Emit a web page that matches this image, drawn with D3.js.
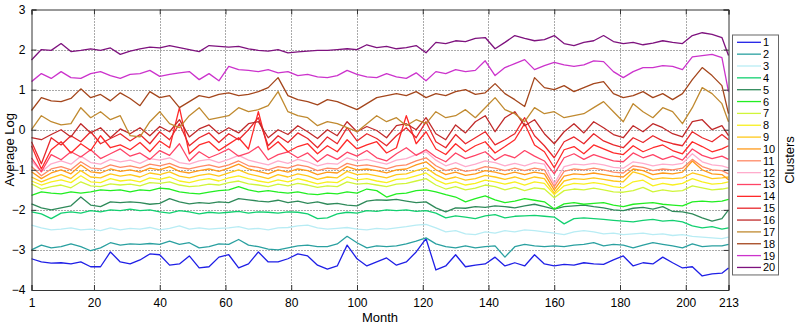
<!DOCTYPE html>
<html>
<head>
<meta charset="utf-8">
<script src="https://cdn.jsdelivr.net/npm/d3@7"></script>
<style>
  body { margin: 0; background: #fff; }
  text { font-family: "Liberation Sans", Arial, sans-serif; fill: #000; }
</style>
</head>
<body>
<svg id="chart" width="798" height="327"></svg>
<script>
// months sampled every 3 months, plus the last one
const months = d3.range(1, 212, 3).concat([213]);

const xTicks = [1, 20, 40, 60, 80, 100, 120, 140, 160, 180, 200, 213];
const yTicks = [-4, -3, -2, -1, 0, 1, 2, 3];

const clusterNames = d3.range(1, 21).map(String);
const clusterColors = ["#1f1fe6", "#2aa0a0", "#b8ecf4", "#12d070", "#2f8a5a",
  "#22ee22", "#d0f53a", "#f8f020", "#ffc81a", "#ff9a1a",
  "#ff8a66", "#ffaccc", "#ff4466", "#ff2a2a", "#e8282c",
  "#c02a2a", "#c08a30", "#a4461c", "#cc33cc", "#7e127e"];

const cluster1 = [-3.22,-3.30,-3.33,-3.32,-3.35,-3.30,-3.42,-3.42,-3.05,-3.30,
  -3.35,-3.25,-3.10,-3.12,-3.38,-3.35,-3.15,-3.45,-3.42,-3.18,
  -3.12,-3.45,-3.35,-3.05,-3.30,-3.30,-3.22,-3.10,-3.15,-3.38,
  -3.48,-3.40,-2.88,-3.22,-3.40,-3.30,-3.20,-3.38,-3.30,-3.05,
  -2.72,-3.50,-3.40,-3.12,-3.42,-3.38,-3.35,-3.18,-3.40,-3.32,
  -3.40,-3.12,-3.35,-3.40,-3.36,-3.38,-3.32,-3.35,-3.36,-3.25,
  -3.15,-3.40,-3.32,-3.35,-3.18,-3.32,-3.45,-3.42,-3.65,-3.60,
  -3.58,-3.45];
const cluster2 = [-3.00,-2.88,-2.95,-2.92,-2.85,-2.92,-3.02,-2.95,-2.82,-2.88,
  -2.85,-2.86,-2.84,-2.86,-2.78,-2.86,-2.82,-2.95,-2.92,-2.85,
  -2.86,-2.74,-2.88,-2.92,-2.98,-3.00,-2.95,-2.90,-2.88,-2.92,
  -2.92,-2.85,-2.66,-2.82,-2.95,-2.90,-2.92,-2.90,-2.85,-2.78,
  -2.70,-2.85,-2.92,-2.95,-2.90,-2.95,-2.92,-2.90,-3.18,-2.92,
  -2.86,-2.90,-2.92,-2.90,-2.92,-2.88,-2.86,-2.82,-2.90,-2.86,
  -2.88,-2.95,-2.88,-2.82,-2.86,-2.90,-2.95,-2.85,-2.92,-2.90,
  -2.90,-2.86];
const cluster3 = [-2.38,-2.45,-2.50,-2.48,-2.45,-2.50,-2.48,-2.52,-2.45,-2.50,
  -2.46,-2.48,-2.44,-2.50,-2.46,-2.40,-2.48,-2.45,-2.48,-2.46,
  -2.45,-2.42,-2.48,-2.46,-2.50,-2.45,-2.44,-2.40,-2.38,-2.45,
  -2.48,-2.46,-2.44,-2.48,-2.50,-2.46,-2.48,-2.45,-2.42,-2.38,
  -2.36,-2.45,-2.55,-2.52,-2.60,-2.62,-2.55,-2.58,-2.52,-2.55,
  -2.50,-2.52,-2.55,-2.58,-2.62,-2.55,-2.52,-2.55,-2.60,-2.58,
  -2.62,-2.60,-2.58,-2.62,-2.60,-2.64,-2.62,-2.66,-2.68,-2.70,
  -2.72,-2.68];
const cluster4 = [-2.05,-2.10,-2.22,-2.08,-2.05,-2.08,-2.02,-2.05,-2.00,-2.02,
  -1.98,-2.02,-2.00,-2.05,-2.08,-2.02,-2.05,-2.10,-2.06,-2.08,
  -2.06,-2.04,-2.08,-2.05,-2.06,-2.08,-2.05,-2.06,-2.10,-2.22,
  -2.20,-2.10,-2.06,-2.08,-2.02,-2.04,-2.00,-2.02,-2.00,-2.04,
  -2.02,-2.08,-2.20,-2.15,-2.18,-2.22,-2.15,-2.12,-2.20,-2.16,
  -2.15,-2.14,-2.16,-2.18,-2.35,-2.22,-2.20,-2.22,-2.24,-2.26,
  -2.28,-2.30,-2.26,-2.24,-2.28,-2.26,-2.30,-2.40,-2.45,-2.42,
  -2.48,-2.45];
const cluster5 = [-1.85,-1.95,-2.00,-1.95,-1.90,-1.68,-1.88,-1.92,-1.80,-1.82,
  -1.80,-1.82,-1.86,-1.84,-1.72,-1.80,-1.85,-1.82,-1.84,-1.80,
  -1.82,-1.72,-1.75,-1.78,-1.80,-1.76,-1.82,-1.78,-1.84,-1.80,
  -1.86,-1.84,-1.88,-1.90,-1.78,-1.75,-1.76,-1.74,-1.78,-1.82,
  -1.80,-1.95,-2.05,-1.95,-1.96,-1.92,-1.94,-1.90,-1.92,-1.95,
  -1.90,-1.86,-1.92,-1.98,-1.92,-1.90,-1.88,-1.92,-1.95,-2.00,
  -2.02,-1.96,-1.94,-1.98,-1.92,-2.04,-2.05,-2.10,-2.20,-2.28,
  -2.22,-2.00];
const cluster6 = [-1.64,-1.55,-1.58,-1.60,-1.55,-1.58,-1.55,-1.50,-1.52,-1.50,
  -1.55,-1.50,-1.52,-1.46,-1.48,-1.55,-1.58,-1.60,-1.56,-1.52,
  -1.50,-1.42,-1.50,-1.55,-1.52,-1.56,-1.58,-1.55,-1.60,-1.62,
  -1.58,-1.60,-1.55,-1.58,-1.48,-1.52,-1.68,-1.60,-1.58,-1.52,
  -1.50,-1.55,-1.62,-1.68,-1.80,-1.72,-1.65,-1.75,-1.82,-1.78,
  -1.72,-1.76,-1.80,-1.98,-1.85,-1.82,-1.86,-1.84,-1.82,-1.88,
  -1.92,-1.86,-1.84,-1.82,-1.86,-1.88,-1.90,-1.80,-1.78,-1.80,
  -1.78,-1.74];
const cluster7 = [-1.35,-1.48,-1.42,-1.38,-1.45,-1.30,-1.40,-1.42,-1.35,-1.38,
  -1.36,-1.40,-1.32,-1.34,-1.30,-1.38,-1.42,-1.40,-1.36,-1.38,
  -1.32,-1.28,-1.35,-1.38,-1.42,-1.36,-1.40,-1.34,-1.38,-1.44,
  -1.40,-1.42,-1.30,-1.36,-1.34,-1.38,-1.42,-1.36,-1.34,-1.28,
  -1.22,-1.38,-1.48,-1.42,-1.50,-1.46,-1.38,-1.42,-1.50,-1.44,
  -1.52,-1.45,-1.48,-1.70,-1.52,-1.48,-1.50,-1.46,-1.50,-1.55,
  -1.56,-1.52,-1.44,-1.55,-1.50,-1.54,-1.52,-1.40,-1.45,-1.50,
  -1.48,-1.45];
const cluster8 = [-1.28,-1.38,-1.30,-1.25,-1.32,-1.15,-1.30,-1.32,-1.22,-1.28,
  -1.25,-1.30,-1.20,-1.24,-1.18,-1.28,-1.32,-1.26,-1.22,-1.28,
  -1.20,-1.15,-1.22,-1.28,-1.32,-1.25,-1.30,-1.22,-1.28,-1.35,
  -1.30,-1.32,-1.18,-1.25,-1.22,-1.28,-1.32,-1.24,-1.22,-1.15,
  -1.08,-1.25,-1.36,-1.30,-1.38,-1.34,-1.26,-1.30,-1.36,-1.30,
  -1.38,-1.30,-1.34,-1.62,-1.40,-1.34,-1.36,-1.32,-1.36,-1.42,
  -1.45,-1.30,-1.26,-1.40,-1.34,-1.38,-1.34,-1.22,-1.30,-1.36,
  -1.34,-1.30];
const cluster9 = [-1.18,-1.30,-1.20,-1.12,-1.22,-1.02,-1.18,-1.20,-1.10,-1.16,
  -1.12,-1.18,-1.08,-1.12,-1.05,-1.16,-1.20,-1.14,-1.10,-1.16,
  -1.08,-1.00,-1.10,-1.16,-1.22,-1.12,-1.18,-1.10,-1.15,-1.24,
  -1.18,-1.20,-1.04,-1.12,-1.10,-1.15,-1.20,-1.12,-1.10,-1.02,
  -0.95,-1.12,-1.24,-1.18,-1.26,-1.22,-1.14,-1.18,-1.24,-1.18,
  -1.25,-1.18,-1.22,-1.58,-1.28,-1.22,-1.24,-1.20,-1.24,-1.28,
  -1.30,-1.05,-1.12,-1.24,-1.20,-1.22,-1.20,-1.08,-1.14,-1.22,
  -1.20,-1.18];
const cluster10 = [-1.05,-1.22,-1.08,-1.00,-1.10,-0.88,-1.05,-1.08,-0.98,-1.04,
  -1.00,-1.06,-0.96,-1.00,-0.92,-1.04,-1.08,-1.02,-0.98,-1.04,
  -0.96,-0.86,-0.98,-1.04,-1.10,-1.00,-1.06,-0.98,-1.02,-1.12,
  -1.06,-1.08,-0.92,-1.00,-0.98,-1.02,-1.08,-1.00,-0.98,-0.88,
  -0.80,-1.00,-1.12,-1.06,-1.14,-1.10,-1.02,-1.06,-1.12,-1.06,
  -1.12,-1.06,-1.10,-1.50,-1.16,-1.10,-1.12,-1.08,-1.12,-1.16,
  -1.18,-0.98,-1.02,-1.12,-1.08,-1.10,-1.06,-0.78,-1.00,-1.10,
  -1.12,-1.25];
const cluster11 = [-0.92,-1.15,-0.98,-0.92,-1.00,-0.80,-0.95,-0.98,-0.88,-0.94,
  -0.90,-0.96,-0.86,-0.90,-0.84,-0.94,-0.98,-0.92,-0.88,-0.94,
  -0.88,-0.78,-0.90,-0.94,-1.00,-0.92,-0.96,-0.88,-0.92,-1.02,
  -0.96,-0.98,-0.84,-0.90,-0.88,-0.92,-0.98,-0.90,-0.88,-0.78,
  -0.70,-0.90,-1.02,-0.96,-1.04,-1.00,-0.92,-0.96,-1.02,-0.96,
  -1.02,-0.96,-1.00,-1.42,-1.04,-0.98,-1.00,-0.96,-1.00,-1.06,
  -1.08,-0.90,-0.94,-1.02,-0.98,-1.00,-0.96,-0.74,-0.92,-1.00,
  -1.02,-1.10];
const cluster12 = [-0.78,-1.05,-0.85,-0.78,-0.86,-0.66,-0.82,-0.86,-0.74,-0.80,
  -0.76,-0.84,-0.72,-0.76,-0.70,-0.82,-0.86,-0.78,-0.74,-0.82,
  -0.74,-0.64,-0.76,-0.82,-0.88,-0.78,-0.84,-0.74,-0.80,-0.90,
  -0.84,-0.86,-0.70,-0.78,-0.74,-0.80,-0.86,-0.76,-0.72,-0.62,
  -0.55,-0.76,-0.90,-0.82,-0.92,-0.86,-0.78,-0.82,-0.90,-0.84,
  -0.90,-0.82,-0.86,-1.35,-0.92,-0.86,-0.88,-0.84,-0.88,-0.94,
  -0.96,-0.80,-0.84,-0.90,-0.86,-0.88,-0.84,-0.60,-0.80,-0.88,
  -0.90,-0.95];
const cluster13 = [-0.70,-1.05,-0.62,-0.75,-0.55,-0.68,-0.50,-0.72,-0.60,-0.48,
  -0.66,-0.58,-0.74,-0.52,-0.64,-0.35,-0.78,-0.55,-0.70,-0.60,
  -0.48,-0.66,-0.58,-0.42,-0.75,-0.62,-0.55,-0.70,-0.58,-0.80,
  -0.62,-0.74,-0.56,-0.66,-0.52,-0.70,-0.78,-0.60,-0.45,-0.64,
  -0.50,-0.68,-0.80,-0.58,-0.72,-0.64,-0.55,-0.76,-0.62,-0.70,
  -0.52,-0.66,-0.78,-1.10,-0.70,-0.60,-0.74,-0.62,-0.70,-0.78,
  -0.80,-0.58,-0.70,-0.62,-0.74,-0.66,-0.76,-0.48,-0.64,-0.72,
  -0.66,-0.74];
const cluster14 = [-0.40,-0.98,-0.50,-0.30,-0.58,-0.35,-0.52,-0.15,-0.45,-0.38,
  -0.50,-0.32,-0.55,-0.28,-0.45,0.55,-0.60,-0.38,-0.30,-0.52,
  -0.36,-0.20,-0.48,0.45,-0.50,-0.30,-0.55,-0.42,-0.35,-0.60,
  -0.40,-0.55,-0.25,-0.48,-0.38,-0.30,-0.58,-0.45,0.35,-0.35,
  -0.05,-0.48,-0.62,-0.35,-0.55,-0.40,-0.30,-0.58,-0.42,-0.25,
  0.15,-0.38,-0.55,-0.95,-0.50,-0.42,-0.60,-0.38,-0.48,-0.58,
  -0.62,-0.40,-0.55,-0.45,-0.38,-0.52,-0.60,-0.30,-0.42,-0.55,
  -0.48,-0.40];
const cluster15 = [-0.30,-0.85,-0.20,-0.38,-0.15,-0.30,-0.05,-0.35,-0.22,-0.10,
  -0.28,-0.12,-0.35,-0.05,-0.25,0.15,-0.40,-0.20,-0.08,-0.32,
  -0.10,-0.25,0.00,0.30,-0.40,-0.15,-0.32,-0.08,-0.22,-0.45,
  -0.18,-0.35,0.05,-0.28,-0.10,-0.22,-0.40,-0.15,0.05,-0.20,
  0.20,-0.30,-0.45,-0.12,-0.35,-0.20,-0.05,-0.38,-0.25,-0.10,
  0.30,-0.15,-0.40,-0.70,-0.30,-0.18,-0.35,-0.10,-0.28,-0.38,
  -0.45,-0.20,-0.32,-0.15,-0.28,-0.35,-0.40,-0.05,-0.20,-0.30,
  -0.12,-0.25];
const cluster16 = [-0.20,-0.25,-0.12,0.00,-0.18,0.15,-0.08,0.05,-0.20,0.02,
  -0.10,0.05,-0.15,0.08,-0.05,0.25,-0.18,0.02,0.12,-0.10,
  0.05,-0.08,0.15,0.20,-0.20,0.00,-0.12,0.10,-0.05,-0.22,
  0.00,-0.15,0.20,-0.05,0.08,-0.02,-0.20,0.10,0.15,0.00,
  0.30,-0.10,-0.25,0.12,-0.08,0.20,0.35,-0.05,0.30,0.45,
  0.10,0.25,-0.10,-0.35,-0.05,0.15,-0.08,0.20,0.05,-0.12,
  -0.20,0.10,-0.05,0.15,0.05,-0.10,-0.18,0.20,0.25,0.00,
  0.10,-0.15];
const cluster17 = [0.00,0.35,0.20,0.12,0.15,0.55,0.30,0.45,0.25,0.35,
  -0.15,-0.18,0.20,0.45,0.15,0.05,0.35,0.55,0.25,0.30,
  0.35,0.55,0.45,0.50,0.60,0.95,0.45,0.35,0.30,0.10,
  0.20,0.15,0.05,-0.05,0.15,0.35,0.20,0.30,0.10,0.25,
  0.15,0.45,0.30,0.35,0.50,0.30,0.55,0.80,0.50,0.40,
  0.20,0.55,0.40,0.45,0.30,0.35,0.40,0.55,0.70,0.45,
  0.20,0.65,0.45,0.30,0.55,0.45,0.15,0.55,1.05,0.90,
  0.65,0.20];
const cluster18 = [0.48,0.80,0.72,0.70,0.78,1.02,0.80,0.88,0.72,0.92,
  0.78,0.60,0.95,0.80,0.85,0.55,0.70,0.85,0.80,0.88,
  0.92,0.85,0.88,0.95,1.05,1.30,0.85,0.75,0.70,0.62,
  0.75,0.70,0.60,0.50,0.65,0.80,0.85,0.90,0.85,0.95,
  0.80,0.90,0.85,0.95,1.00,0.88,0.92,1.15,0.90,0.75,
  0.58,1.30,1.05,1.00,1.10,0.95,1.05,1.15,1.20,0.90,
  0.80,0.85,0.95,0.80,0.90,0.75,0.90,1.25,1.55,1.35,
  1.10,0.40];
const cluster19 = [1.20,1.40,1.28,1.45,1.30,1.28,1.40,1.45,1.35,1.28,
  1.38,1.40,1.48,1.33,1.38,1.42,1.45,1.25,1.40,1.22,
  1.58,1.50,1.48,1.45,1.50,1.42,1.45,1.35,1.38,1.32,
  1.30,1.35,1.48,1.38,1.32,1.30,1.40,1.32,1.28,1.42,
  1.22,1.45,1.40,1.50,1.45,1.48,1.72,1.35,1.55,1.65,
  1.75,1.50,1.60,1.68,1.62,1.58,1.62,1.72,1.70,1.45,
  1.30,1.45,1.55,1.55,1.60,1.58,1.50,1.82,1.85,1.88,
  1.80,0.95];
const cluster20 = [1.74,2.00,1.98,2.15,1.95,1.98,2.02,1.98,2.04,1.88,
  1.96,2.02,2.06,2.04,2.10,2.05,2.00,1.95,2.10,2.08,
  2.06,2.08,2.02,1.98,1.96,2.00,1.92,1.94,1.96,1.98,
  1.98,2.00,2.02,2.00,2.12,2.05,2.08,2.02,2.05,2.10,
  1.92,2.18,2.15,2.22,2.20,2.28,2.30,2.02,2.18,2.35,
  2.28,2.22,2.25,2.35,2.15,2.10,2.18,2.22,2.35,2.20,
  2.15,2.18,2.12,2.16,2.22,2.18,2.15,2.35,2.42,2.38,
  2.30,1.85];

const clusters = [cluster1, cluster2, cluster3, cluster4, cluster5, cluster6, cluster7,
  cluster8, cluster9, cluster10, cluster11, cluster12, cluster13, cluster14, cluster15,
  cluster16, cluster17, cluster18, cluster19, cluster20];

// plot box
const plotLeft = 31.5, plotRight = 728.5, plotTop = 9.5, plotBottom = 290;

const svg = d3.select("#chart");

const x = d3.scaleLinear().domain([1, 213]).range([plotLeft, plotRight]);
const y = d3.scaleLinear().domain([-4, 3]).range([plotBottom, plotTop]);

// dotted grid
const grid = svg.append("g")
    .attr("stroke", "#555")
    .attr("stroke-width", 1)
    .attr("stroke-dasharray", "1,2");
grid.selectAll(".gx")
    .data(xTicks.filter(d => d !== 1 && d !== 213))
    .enter().append("line")
    .attr("x1", d => Math.round(x(d)) + 0.5).attr("x2", d => Math.round(x(d)) + 0.5)
    .attr("y1", plotTop).attr("y2", plotBottom);
grid.selectAll(".gy")
    .data(yTicks.filter(d => d !== -4 && d !== 3))
    .enter().append("line")
    .attr("y1", d => Math.round(y(d)) + 0.5).attr("y2", d => Math.round(y(d)) + 0.5)
    .attr("x1", plotLeft).attr("x2", plotRight);

// series
const line = d3.line()
    .x((d, i) => x(months[i]))
    .y(d => y(d));

svg.append("g")
    .selectAll("path")
    .data(clusters)
    .enter().append("path")
    .attr("d", line)
    .attr("fill", "none")
    .attr("stroke", (d, i) => clusterColors[i])
    .attr("stroke-width", 1.3)
    .attr("stroke-linejoin", "round");

// axes, ticks pointing inward like matlab
svg.append("g")
    .attr("transform", `translate(0,${plotBottom})`)
    .call(d3.axisBottom(x).tickValues(xTicks).tickSize(-5).tickPadding(8));
svg.append("g")
    .attr("transform", `translate(${plotLeft},0)`)
    .call(d3.axisLeft(y).tickValues(yTicks).tickSize(-5).tickPadding(6).tickFormat(d3.format("d")));
svg.append("g")
    .attr("transform", `translate(0,${plotTop})`)
    .call(d3.axisTop(x).tickValues(xTicks).tickSize(-5).tickFormat(""));
svg.append("g")
    .attr("transform", `translate(${plotRight},0)`)
    .call(d3.axisRight(y).tickValues(yTicks).tickSize(-5).tickFormat(""));

svg.selectAll(".domain").attr("stroke", "#333");
svg.selectAll(".tick line").attr("stroke", "#333");
svg.selectAll(".tick text")
    .style("font-family", "'Liberation Sans', Arial, sans-serif")
    .style("font-size", "12px")
    .attr("fill", "#000");

// axis labels
svg.append("text")
    .attr("x", (plotLeft + plotRight) / 2)
    .attr("y", 322)
    .attr("text-anchor", "middle")
    .style("font-size", "13px")
    .text("Month");

svg.append("text")
    .attr("transform", `translate(14,${(plotTop + plotBottom) / 2}) rotate(-90)`)
    .attr("text-anchor", "middle")
    .style("font-size", "13px")
    .text("Average Log");

// legend
const legTop = 35, legStep = 11.85, legY0 = 42.3;
svg.append("rect")
    .attr("x", 732.5).attr("y", legTop)
    .attr("width", 46).attr("height", legY0 + 19 * legStep + 7.5 - legTop)
    .attr("fill", "#fff")
    .attr("stroke", "#666");

const legend = svg.selectAll(".legend")
    .data(clusterNames)
    .enter().append("g")
    .attr("class", "legend")
    .attr("transform", (d, i) => `translate(0,${legY0 + i * legStep})`);

legend.append("line")
    .attr("x1", 737).attr("x2", 761)
    .attr("stroke", (d, i) => clusterColors[i])
    .attr("stroke-width", 1.3);

legend.append("text")
    .attr("x", 763)
    .attr("dy", "0.36em")
    .style("font-size", "11px")
    .text(d => d);

svg.append("text")
    .attr("transform", "translate(794,160) rotate(-90)")
    .attr("text-anchor", "middle")
    .style("font-size", "13px")
    .text("Clusters");
</script>
</body>
</html>
